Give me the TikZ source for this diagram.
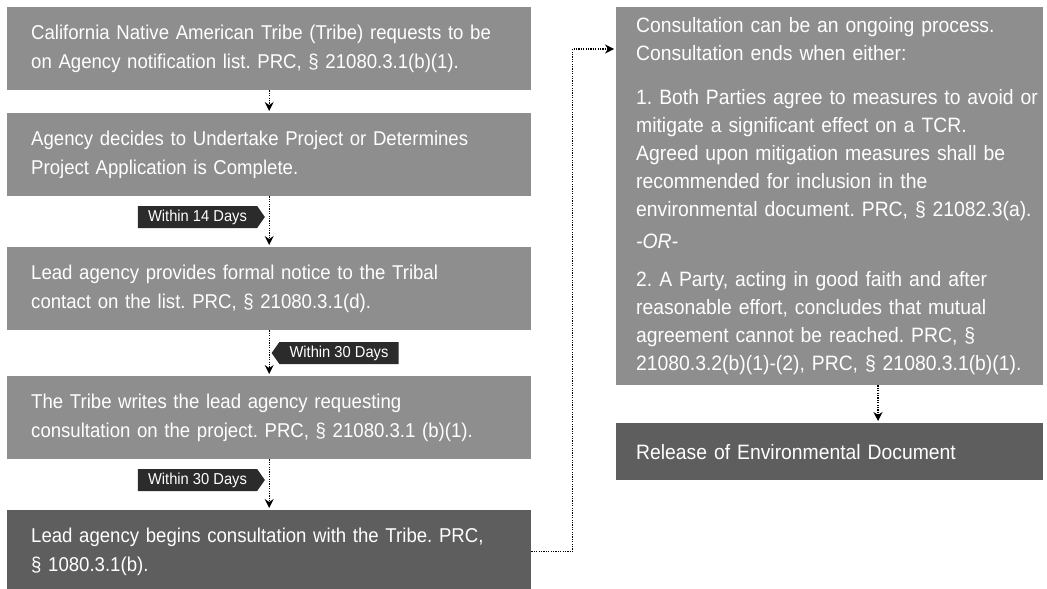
\documentclass[tikz,border=0pt]{standalone}
\usepackage{fontspec}
\setmainfont[FakeStretch=0.93]{Liberation Sans}
\usetikzlibrary{shapes.symbols}
\usetikzlibrary{arrows.meta}
\usetikzlibrary{calc}
\frenchspacing

\definecolor{boxgray}{HTML}{8E8E8E}
\definecolor{boxdark}{HTML}{5E5E5E}
\definecolor{taggray}{HTML}{2B2B2B}

\tikzset{
  stepbox/.style={fill=boxgray, text=white, align=left, inner ysep=0pt},
  leftbox/.style={stepbox, anchor=north west, text width=476pt, inner xsep=24pt, minimum height=83pt, font=\fontsize{20}{29}\selectfont},
  rightbox/.style={stepbox, anchor=north west, text width=419pt, inner xsep=4pt, font=\fontsize{20.8}{28}\selectfont, execute at begin node={\leftskip=16pt}},
  daytag/.style={signal, fill=taggray, text=white, font=\fontsize{15.8}{18}\selectfont, minimum width=127pt, minimum height=22pt, inner sep=0pt, signal pointer angle=110},
  flow/.style={line width=1.1pt, dash pattern=on 1.2pt off 1.2pt, -{Stealth[length=9pt,width=9pt,inset=3pt]}, shorten >=2pt}
}

\begin{document}
\begin{tikzpicture}[x=1pt, y=-1pt]
  \useasboundingbox (0,0) rectangle (1047,589);

  % Left column: the steps up to the start of consultation
  \node[leftbox] (list) at (7,7) {California Native American Tribe (Tribe) requests to be\\on Agency notification list. PRC, § 21080.3.1(b)(1).};
  \node[leftbox] (project) at (7,113) {Agency decides to Undertake Project or Determines\\Project Application is Complete.};
  \node[leftbox] (notice) at (7,247) {Lead agency provides formal notice to the Tribal\\contact on the list. PRC, § 21080.3.1(d).};
  \node[leftbox] (request) at (7,376) {The Tribe writes the lead agency requesting\\consultation on the project. PRC, § 21080.3.1 (b)(1).};
  \node[leftbox, fill=boxdark] (begin) at (7,510) {Lead agency begins consultation with the Tribe. PRC,\\§ 1080.3.1(b).};

  % Right column
  \node[rightbox, minimum height=378pt] (consult) at (616,7) {Consultation can be an ongoing process.\\Consultation ends when either:\\[16pt]
    1. Both Parties agree to measures to avoid or\\mitigate a significant effect on a TCR.\\Agreed upon mitigation measures shall be\\recommended for inclusion in the\\environmental document. PRC, § 21082.3(a).\\[4pt]
    \textit{-OR-}\\[10pt]
    2. A Party, acting in good faith and after\\reasonable effort, concludes that mutual\\agreement cannot be reached. PRC, §\\21080.3.2(b)(1)-(2), PRC, § 21080.3.1(b)(1).};
  \node[rightbox, fill=boxdark, minimum height=57pt] (release) at (616,423) {Release of Environmental Document};

  % Time limits
  \node[daytag, signal to=east] (days14) at (197.5,217) {Within 14 Days};
  \node[daytag, signal to=west] (days30a) at (339,353) {Within 30 Days};
  \node[daytag, signal to=east] (days30b) at (197.5,480) {Within 30 Days};

  \draw[flow] (list) -- (project);
  \draw[flow] (project) -- (notice);
  \draw[flow] (notice) -- (request);
  \draw[flow] (request) -- (begin);

  \coordinate (into) at ($(consult.north west)+(0,42)$);
  \draw[flow] (begin.east) -- ++(41,0) |- (into);

  \coordinate (downx) at (878,0);
  \draw[flow] (consult.south -| downx) -- (release.north -| downx);
\end{tikzpicture}
\end{document}
